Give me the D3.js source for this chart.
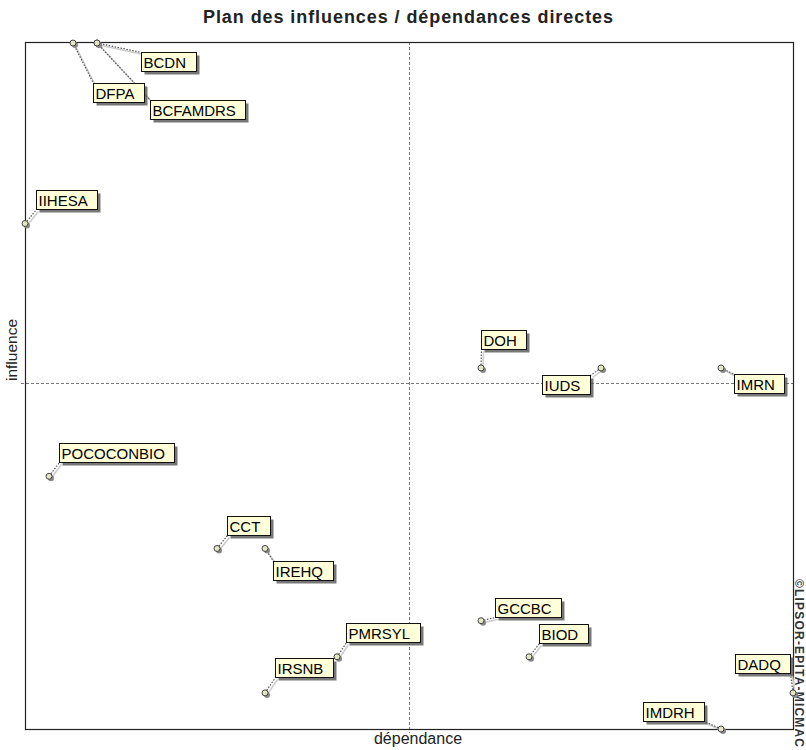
<!DOCTYPE html>
<html><head><meta charset="utf-8">
<script src="https://cdn.jsdelivr.net/npm/d3@7"></script>
<style>body{margin:0;background:#fff}svg{display:block}</style>
</head><body>
<svg id="c" width="806" height="750"></svg>
<script>
// ---- data ----
const names = ["BCDN","DFPA","BCFAMDRS","IIHESA","DOH","IUDS","IMRN","POCOCONBIO","CCT","IREHQ","GCCBC","BIOD","PMRSYL","IRSNB","DADQ","IMDRH"];
const dependance = [3, 2, 3, 0, 19, 24, 29, 1, 8, 10, 19, 21, 13, 10, 32, 29];
const influence = [19, 19, 19, 14, 10, 10, 10, 7, 5, 5, 3, 2, 2, 1, 1, 0];
const xDomain = [0, 32];
const yDomain = [0, 19];
const xMean = 16;
const yMean = 9.58;
const title = "Plan des influences / dépendances directes";
const xTitle = "dépendance";
const yTitle = "influence";
const credit = "©LIPSOR-EPITA-MICMAC";
// label box offsets (layout only)
const labelDx = [44, 20, 53, 11, 0, -59, 13, 10, 10, 8, 14, 10, 9, 10, -58, -78];
const labelDy = [9, 40, 57, -34, -38, 7, 6, -33, -32, 13, -23, -33, -34, -35, -39, -27];

// ---- layout ----
const L = 25, R = 793, T = 42, B = 729;
const svg = d3.select("#c");
const x = d3.scaleLinear().domain(xDomain).range([L, R]);
const y = d3.scaleLinear().domain(yDomain).range([B, T + 1]);
const font = "'Liberation Sans', Arial, sans-serif";

svg.append("text").attr("x", 408).attr("y", 23).attr("text-anchor", "middle")
  .attr("font-family", font).attr("font-weight", "bold").attr("font-size", 18)
  .attr("textLength", 410).attr("lengthAdjust", "spacing")
  .attr("fill", "#222").text(title);

// crosshair
const xm = Math.round(x(xMean)) + 0.5, ym = Math.round(y(yMean)) + 0.5;
svg.append("line").attr("x1", xm).attr("x2", xm).attr("y1", T).attr("y2", B + 4)
  .attr("stroke", "#777").attr("stroke-dasharray", "3,2");
svg.append("line").attr("x1", L - 4).attr("x2", R).attr("y1", ym).attr("y2", ym)
  .attr("stroke", "#777").attr("stroke-dasharray", "3,2");

// frame
svg.append("rect").attr("x", L + 0.5).attr("y", T + 0.5).attr("width", R - L).attr("height", B - T)
  .attr("fill", "none").attr("stroke", "#222").attr("stroke-width", 1.2);

// axis titles
svg.append("text").attr("x", 418).attr("y", 744).attr("text-anchor", "middle")
  .attr("font-family", font).attr("font-size", 16).attr("fill", "#222").text(xTitle);
svg.append("text").attr("transform", "translate(17,350) rotate(-90)").attr("text-anchor", "middle")
  .attr("font-family", font).attr("font-size", 15.5).attr("fill", "#222").text(yTitle);
svg.append("text").attr("transform", "translate(795,663) rotate(90)").attr("text-anchor", "middle")
  .attr("font-family", font).attr("font-size", 12).attr("font-weight", "bold")
  .attr("textLength", 168).attr("lengthAdjust", "spacing").attr("fill", "#333").text(credit);

const data = names.map((n, i) => ({ n, px: x(dependance[i]), py: y(influence[i]), dx: labelDx[i], dy: labelDy[i] }));

const gLines = svg.append("g"), gPts = svg.append("g"), gLab = svg.append("g");

// labels first to measure
data.forEach(d => {
  const g = gLab.append("g");
  const bx = Math.round(d.px + d.dx) + 0.5, by = Math.round(d.py + d.dy) + 0.5;
  const sh = g.append("rect"), box = g.append("rect");
  const t = g.append("text").attr("x", bx + 2).attr("y", by + 15)
    .attr("font-family", font).attr("font-size", 15).attr("fill", "#000").text(d.n);
  const w = Math.round(t.node().getComputedTextLength()) + 12, h = 19;
  sh.attr("x", bx + 3).attr("y", by + 3).attr("width", w).attr("height", h).attr("fill", "#555").attr("opacity", 0.8);
  box.attr("x", bx).attr("y", by).attr("width", w).attr("height", h).attr("fill", "#ffffd8").attr("stroke", "#111");
  d.box = { x0: bx, y0: by, x1: bx + w, y1: by + h };
});

// connector lines
data.forEach(d => {
  const ex = Math.max(d.box.x0, Math.min(d.px, d.box.x1));
  const ey = Math.max(d.box.y0, Math.min(d.py, d.box.y1));
  gLines.append("line").attr("x1", d.px + 2).attr("y1", d.py + 2).attr("x2", ex + 2).attr("y2", ey + 2)
    .attr("stroke", "#ccc").attr("stroke-width", 1.5);
  gLines.append("line").attr("x1", d.px).attr("y1", d.py).attr("x2", ex).attr("y2", ey)
    .attr("stroke", "#555").attr("stroke-width", 1.2).attr("stroke-dasharray", "1.5,1.5");
});

// points
data.forEach(d => {
  gPts.append("circle").attr("cx", d.px + 2).attr("cy", d.py + 2).attr("r", 3).attr("fill", "#888");
  gPts.append("circle").attr("cx", d.px).attr("cy", d.py).attr("r", 3)
    .attr("fill", "#e6e6c4").attr("stroke", "#444").attr("stroke-width", 1);
});
</script>
</body></html>
